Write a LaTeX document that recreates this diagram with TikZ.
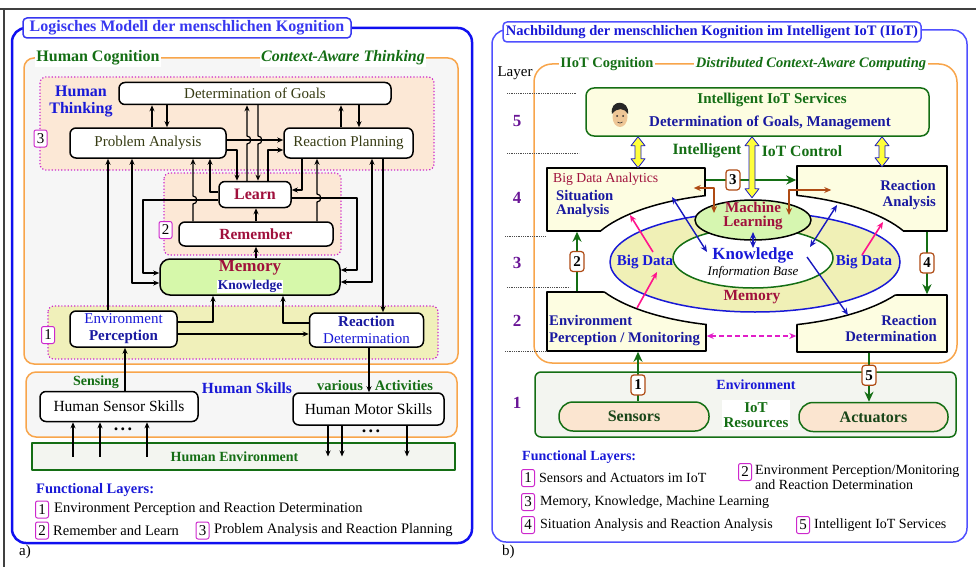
\documentclass[tikz,border=0pt]{standalone}
\usepackage{fontspec}
\setmainfont{Liberation Serif}
\usepackage{xcolor}
\usepackage{tikz}
\usetikzlibrary{arrows.meta,calc,shapes.geometric}
\definecolor{frameblue}{RGB}{16,16,240}
\definecolor{rightblue}{RGB}{80,80,255}
\definecolor{titleblue}{RGB}{55,55,240}
\definecolor{darkblue}{RGB}{25,25,160}
\definecolor{brightblue}{RGB}{25,25,215}
\definecolor{cogorange}{RGB}{248,165,75}
\definecolor{lightgray}{RGB}{246,246,246}
\definecolor{peach}{RGB}{252,232,214}
\definecolor{layermagenta}{RGB}{205,40,205}
\definecolor{paleyellow}{RGB}{240,240,186}
\definecolor{memgreen}{RGB}{214,248,170}
\definecolor{darkgreen}{RGB}{20,110,20}
\definecolor{deepgreen}{RGB}{25,70,25}
\definecolor{darkred}{RGB}{160,16,60}
\definecolor{textolive}{RGB}{55,60,20}
\definecolor{cream}{RGB}{253,253,225}
\definecolor{rustbrown}{RGB}{175,75,20}
\definecolor{hotpink}{RGB}{255,20,140}
\definecolor{dashmagenta}{RGB}{225,30,200}
\definecolor{layerpurple}{RGB}{105,20,150}
\definecolor{arrowblue}{RGB}{25,25,190}
\definecolor{sensorfill}{RGB}{251,229,208}
\definecolor{envfill}{RGB}{243,245,240}
\definecolor{memyellow}{RGB}{240,240,182}
\definecolor{mlgreen}{RGB}{214,246,176}
\definecolor{skin}{RGB}{238,198,150}
\definecolor{fatyellow}{RGB}{255,255,60}
\newcommand{\fsz}[2]{\fontsize{#1}{#2}\selectfont}
\newcommand{\fatarrow}[2]{\draw[fatarr] #1 -- ++(7,9) -- ++(-4,0) -- ++(0,#2-18) -- ++(4,0) -- ++(-7,9) -- ++(-7,-9) -- ++(4,0) -- ++(0,18-#2) -- ++(-4,0) -- cycle;}
\tikzset{
  txt/.style={inner sep=1},
  box/.style={draw, line width=1.5, rounded corners=6, fill=white, align=center, inner sep=0},
  cutbox/.style={draw, line width=1.5, fill=cream, inner sep=0},
  layerbox/.style={draw=layermagenta, dotted, line width=1.2, rounded corners=6, fill=peach},
  cogbox/.style={draw=cogorange, line width=1.5, rounded corners=10, fill=lightgray},
  titlebox/.style={line width=1.5, rounded corners=4, fill=white, inner sep=0},
  captext/.style={fill=white, inner sep=1.5, text=darkgreen, font=\fsz{16}{18}\bfseries},
  numbox/.style={draw=layermagenta, line width=1, rounded corners=2, fill=white, minimum width=13, minimum height=17, inner sep=0},
  iotnum/.style={draw=rustbrown, line width=1.2, rounded corners=3, fill=white, minimum width=14, minimum height=20, inner sep=0, font=\fsz{15}{16}\bfseries, text=black},
  layernum/.style={inner sep=1, text=layerpurple, font=\fsz{17}{18}\bfseries},
  sensbox/.style={draw=darkgreen, line width=1.5, rounded corners=14, fill=sensorfill, minimum width=150, minimum height=29, inner sep=0, text=deepgreen, font=\fsz{16}{18}\bfseries},
  sepline/.style={densely dotted, line width=0.8, black!70},
  dots/.style={inner sep=0.5, font=\fsz{18}{18}\bfseries},
  arr/.style={-{Stealth[length=6pt,width=5pt]}, line width=1.2},
  biarr/.style={{Stealth[length=6pt,width=5pt]}-{Stealth[length=6pt,width=5pt]}, line width=1.2},
  garr/.style={-{Stealth[length=10pt,width=9pt]}, line width=2.2, draw=darkgreen},
  bluearr/.style={{Stealth[length=7pt,width=6pt]}-{Stealth[length=7pt,width=6pt]}, line width=1.4, draw=arrowblue},
  pinkarr/.style={-{Stealth[length=7pt,width=6pt]}, line width=1.6, draw=hotpink},
  brownarr/.style={{Stealth[length=7pt,width=6pt]}-{Stealth[length=7pt,width=6pt]}, line width=1.5, draw=rustbrown},
  dasharr/.style={{Stealth[length=7pt,width=6pt]}-{Stealth[length=7pt,width=6pt]}, line width=1.3, draw=dashmagenta, dash pattern=on 5pt off 3pt},
  fatarr/.style={draw=arrowblue, line width=0.8, fill=fatyellow}
}

\begin{document}
\begin{tikzpicture}[x=1pt, y=-1pt, font=\fsz{15}{17}, line join=round]
\useasboundingbox (0,0) rectangle (976,567);
\draw[line width=1.5, black!75] (0,9) -- (976,9);
\draw[line width=1.2, black!75] (4,9) -- (4,567);

% ===== a) human cognition
\draw[draw=frameblue, line width=2.5, rounded corners=14] (12,28) rectangle (472,543);
\node[titlebox, draw=titleblue, text=titleblue, minimum width=328, minimum height=20, font=\fsz{16}{18}\bfseries] (titleA) at (187,28) {Logisches Modell der menschlichen Kognition};
\draw[cogbox] (24,58) rectangle (458,364);
\node[captext] (hcog) at (98,58) {Human Cognition};
\node[captext, font=\fsz{16}{18}\bfseries\itshape] (cat) at (343,58) {Context-Aware Thinking};
\draw[layerbox] (40,77) rectangle (434,170);
\draw[layerbox] (164,173) rectangle (341,255);
\draw[layerbox, fill=paleyellow] (48,306) rectangle (438,359);
\node[numbox] (nA3) at (40.5,138.5) {3};
\node[numbox] (nA2) at (165.5,230) {2};
\node[numbox] (nA1) at (48,335) {1};
\node[txt, align=center, text=brightblue, font=\fsz{16}{17}\bfseries] (think) at (81,101.5) {Human\\Thinking};

\node[box, minimum width=272, minimum height=22, text=textolive] (dog) at (255,93.5) {Determination of Goals};
\node[box, minimum width=156, minimum height=30, text=textolive] (pa) at (148,143) {Problem Analysis};
\node[box, minimum width=129, minimum height=30, text=textolive] (rp) at (348.5,143) {Reaction Planning};
\node[box, minimum width=72, minimum height=26, text=darkred, font=\fsz{16}{18}\bfseries] (learn) at (255,194.5) {Learn};
\node[box, minimum width=154, minimum height=24, text=darkred, font=\fsz{15.5}{18}\bfseries] (rem) at (256,234) {Remember};
\node[box, minimum width=180, minimum height=36, fill=memgreen, rounded corners=10, font=\fsz{15}{18}] (mem) at (250,277) {{\fsz{17}{17}\bfseries\color{darkred}Memory}\\{\fsz{13.5}{14}\bfseries\setlength{\fboxsep}{0.5pt}\colorbox{white}{\color{darkblue}Knowledge}}};
\node[box, minimum width=107, minimum height=36] (ep) at (123.5,329) {{\color{brightblue}Environment}\\{\bfseries\color{darkblue}Perception}};
\node[box, minimum width=114, minimum height=34] (rd) at (366.5,330) {{\bfseries\color{darkblue}Reaction}\\{\color{brightblue}Determination}};

% thinking layer
\draw[arr] (pa.north -| 152,0) -- (dog.south -| 152,0);
\draw[arr] (dog.south -| 167,0) -- (pa.north -| 167,0);
\draw[arr] (rp.north -| 341,0) -- (dog.south -| 341,0);
\draw[arr] (dog.south -| 359,0) -- (rp.north -| 359,0);
\draw[arr] (learn.north -| 247,0) -- (247,144) .. controls (252,144) and (252,136) .. (247,136) -- (dog.south -| 247,0);
\draw[arr] (dog.south -| 258,0) -- (258,136) .. controls (263,136) and (263,144) .. (258,144) -- (learn.north -| 258,0);
\draw[arr] (pa.east |- 0,140) -- (rp.west |- 0,140);
\draw[arr] (pa.east |- 0,150) -| (learn.north -| 237,0);
\draw[arr] (learn.north -| 268,0) |- (rp.west |- 0,150);
\draw[arr] (rp.south -| 302,0) |- (learn.east |- 0,190);
\draw[arr] (learn.west |- 0,192) -| (pa.south -| 210,0);
% learn, remember, memory
\draw[arr] (learn.west |- 0,200) -| (143,273) -- (mem.west |- 0,273);
\draw[biarr] (pa.south -| 132,0) |- (mem.west |- 0,283);
\draw[arr] (ep.north -| 108,0) -- (pa.south -| 108,0);
\draw[arr] (rem.north -| 193,0) -- (193,204) .. controls (198,204) and (198,196) .. (193,196) -- (pa.south -| 193,0);
\draw[arr] (rem.north -| 256,0) -- (learn.south -| 256,0);
\draw[arr] (mem.north -| 256,0) -- (rem.south -| 256,0);
\draw[arr] (learn.east |- 0,198) -| (357,270) -- (mem.east |- 0,270);
\draw[arr] (rem.north -| 317,0) -- (317,202) .. controls (322,202) and (322,194) .. (317,194) -- (rp.south -| 317,0);
\draw[biarr] (rp.south -| 372,0) |- (mem.east |- 0,282);
\draw[arr] (rp.south -| 383,0) -- (rd.north -| 383,0);
\draw[arr] (ep.east |- 0,322) -| (mem.south -| 213,0);
\draw[arr] (ep.east |- 0,334) -- (rd.west |- 0,334);
\draw[arr] (rd.west |- 0,323) -| (mem.south -| 283,0);

% skills and environment
\draw[cogbox] (26,372) rectangle (457,437);
\node[box, minimum width=158, minimum height=30, font=\fsz{15.5}{17}] (hss) at (119,406.5) {Human Sensor Skills};
\node[box, minimum width=151, minimum height=32, font=\fsz{15.5}{17}] (hms) at (368.5,409) {Human Motor Skills};
\node[txt, text=darkgreen, font=\fsz{14}{16}\bfseries] (sensing) at (96,382) {Sensing};
\node[txt, text=brightblue, font=\fsz{15.5}{17}\bfseries] (skills) at (247,388) {Human Skills};
\node[txt, text=darkgreen, font=\fsz{14.5}{16}\bfseries] (acts) at (375,386) {various\hspace{12pt}Activities};
\node[draw=darkgreen, line width=1.5, fill=envfill, minimum width=423, minimum height=27, inner sep=0] (henv) at (243.5,456.5) {};
\node[txt, text=darkgreen, font=\fsz{14}{16}\bfseries] (henvtxt) at (234.5,457) {Human Environment};
\node[dots] (dotsA) at (123,429) {.\hspace{2.5pt}.\hspace{2.5pt}.};
\node[dots] (dotsB) at (371,431) {.\hspace{2.5pt}.\hspace{2.5pt}.};
\draw[arr] (hss.north -| 125,0) -- (ep.south -| 125,0);
\draw[arr] (rd.south -| 369,0) -- (hms.north -| 369,0);
\foreach \xx in {73,100,147} \draw[arr] (henv.center -| \xx,0) -- (hss.south -| \xx,0);
\foreach \xx in {328,342,407} \draw[arr] (hms.south -| \xx,0) -- (henv.center -| \xx,0);

% legend a
\node[txt, anchor=west, text=brightblue, font=\fsz{14.5}{16}\bfseries] (flA) at (35,490) {Functional Layers:};
\node[numbox] (lA1) at (42,509.5) {1};
\node[txt, anchor=west, font=\fsz{14.5}{16}] (lA1t) at (53,509.5) {Environment Perception and Reaction Determination};
\node[numbox] (lA2) at (42,530.5) {2};
\node[txt, anchor=west, font=\fsz{14.5}{16}] (lA2t) at (52,530.5) {Remember and Learn};
\node[numbox] (lA3) at (202.5,530.5) {3};
\node[txt, anchor=west, font=\fsz{14.5}{16}] (lA3t) at (213,530.5) {Problem Analysis and Reaction Planning};
\node[txt, anchor=west] (capA) at (18,552) {a)};

% ===== b) IIoT
\draw[draw=rightblue, line width=1.5, rounded corners=14] (492,30) rectangle (967,542);
\node[titlebox, draw=rightblue, text=brightblue, minimum width=418, minimum height=20, font=\fsz{14.5}{16}\bfseries] (titleB) at (712,32) {Nachbildung der menschlichen Kognition im Intelligent IoT (IIoT)};
\node[txt] (layer) at (515,73) {Layer};
\draw[cogbox, fill=white, rounded corners=18] (534,64) rectangle (957,363);
\node[captext, font=\fsz{14.5}{16}\bfseries] (iiotc) at (607,64) {IIoT Cognition};
\node[captext, font=\fsz{14.5}{16}\bfseries\itshape] (dcac) at (811,64) {Distributed Context-Aware Computing};
\foreach \yy/\xa/\xb in {93/507/577,153/507/579,236/505/545,287/507/570,351/505/545}
  \draw[sepline] (\xa,\yy) -- (\xb,\yy);
\foreach \yy/\nn in {121/5,198/4,263/3,321/2,403/1}
  \node[layernum] (ln\nn) at (517,\yy) {\nn};

\node[draw=darkgreen, line width=1.5, rounded corners=8, fill=cream, minimum width=343, minimum height=48, inner sep=0] (svc) at (757.5,112) {};
\node[txt, text=darkgreen, font=\fsz{15}{17}\bfseries] (svct1) at (772,100) {Intelligent IoT Services};
\node[txt, text=darkblue, font=\fsz{15}{17}\bfseries] (svct2) at (770,123) {Determination of Goals, Management};
\begin{scope}[shift={(620,115)}]
  \fill[skin] (0,2) ellipse [x radius=7.5, y radius=10];
  \fill[black!85] (-8,-1) .. controls (-11,-16) and (10,-16) .. (8,-1) .. controls (5,-7) and (-3,-8) .. (-8,-1) -- cycle;
  \fill[black!85] (-3,1) circle (1) (3,1) circle (1);
  \draw[black!80, line width=0.6] (-2.5,7) .. controls (-1,8.5) and (1,8.5) .. (2.5,7);
\end{scope}

\node[cutbox, minimum width=158, minimum height=63] (sa) at (626,199.5) {};
\node[cutbox, minimum width=150, minimum height=65] (ra) at (872,198.5) {};
\node[cutbox, minimum width=159, minimum height=59] (epm) at (626.5,321.5) {};
\node[cutbox, minimum width=150, minimum height=57] (rdm) at (872,323.5) {};
\fill[white] (752,260) ellipse [x radius=168, y radius=67];
\begin{scope}
  \clip (sa.south west) rectangle (sa.north east) (ra.south west) rectangle (ra.north east)
        (epm.south west) rectangle (epm.north east) (rdm.south west) rectangle (rdm.north east);
  \draw[line width=1.5] (752,260) ellipse [x radius=168, y radius=67];
\end{scope}
\node[ellipse, draw=brightblue, line width=1.5, fill=memyellow, minimum width=290, minimum height=100, inner sep=0] (memo) at (755,262) {};
\node[ellipse, draw=darkgreen, line width=1.5, fill=white, minimum width=160, minimum height=60, inner sep=0] (know) at (753,258) {};
\node[ellipse, draw, line width=1.5, fill=mlgreen, minimum width=116, minimum height=40, inner sep=0] (ml) at (753,220) {};

\node[txt, anchor=west, text=darkred, font=\fsz{13.7}{16}] (bda) at (552,179) {Big Data Analytics};
\node[txt, anchor=west, align=left, text=darkblue, font=\fsz{14.7}{14.5}\bfseries] (satxt) at (555,204) {Situation\\Analysis};
\node[txt, anchor=east, align=right, text=darkblue, font=\fsz{14.7}{16}\bfseries] (ratxt) at (937,195) {Reaction\\Analysis};
\node[txt, anchor=west, align=left, text=darkblue, font=\fsz{14.7}{17}\bfseries] (eptxt) at (548,330.5) {Environment\\Perception / Monitoring};
\node[txt, anchor=east, align=right, text=darkblue, font=\fsz{14.7}{15.5}\bfseries] (rdtxt) at (938,328.5) {Reaction\\Determination};
\node[txt, align=center, text=darkred, font=\fsz{15}{14.5}\bfseries] (mltxt) at (753,216) {Machine\\Learning};
\node[txt, text=brightblue, font=\fsz{17}{18}\bfseries] (knowtxt) at (753,255) {Knowledge};
\node[txt, font=\fsz{13}{14}\itshape] (ibase) at (753,272) {Information Base};
\node[txt, text=darkred, font=\fsz{15.5}{17}\bfseries] (memtxt) at (752,297) {Memory};
\node[txt, text=brightblue, font=\fsz{15}{17}\bfseries] (bdl) at (645,262) {Big Data};
\node[txt, text=brightblue, font=\fsz{15}{17}\bfseries] (bdr) at (864,262) {Big Data};
\node[txt, text=darkgreen, font=\fsz{15.7}{17}\bfseries] (intel) at (707,151) {Intelligent};
\node[txt, text=darkgreen, font=\fsz{15.7}{17}\bfseries] (ctrl) at (802,151) {IoT Control};

% environment
\node[draw=darkgreen, line width=1.5, rounded corners=6, fill=envfill, minimum width=421, minimum height=65, inner sep=0] (env) at (745.5,404.5) {};
\node[txt, text=brightblue, font=\fsz{14}{16}\bfseries] (envtxt) at (756,385) {Environment};
\node[sensbox] (sens) at (634,416.5) {Sensors};
\node[sensbox, minimum width=149] (act) at (873.5,417) {Actuators};
\node[fill=white, inner sep=2, align=center, text=darkgreen, font=\fsz{15}{15.5}\bfseries] (iotres) at (756,415) {IoT\\Resources};

% arrows
\draw[pinkarr] ($(epm.center)+(10.5,-13.5)$) -- ($(bdl.center)+(12,10)$);
\draw[pinkarr] ($(bdl.center)+(8,-10)$) -- ($(sa.center)+(4,15.5)$);
\draw[pinkarr] ($(bdr.center)+(-2,-7)$) -- ($(ra.center)+(11,23.5)$);
\draw[bluearr] ($(sa.center)+(46,-2.5)$) -- ($(know.center)+(-46,-6)$);
\draw[bluearr] ($(ml.center)+(0,12)$) -- ($(know.center)+(0,-10)$);
\draw[bluearr] ($(ra.center)+(-35,6.5)$) -- ($(know.center)+(57,-11)$);
\draw[-{Stealth[length=7pt,width=6pt]}, line width=1.4, draw=arrowblue] ($(know.center)+(54,-1)$) -- ($(rdm.center)+(-24,-8.5)$);
\draw[brownarr] ($(sa.east |- 0,188)+(-12,0)$) -| ($(ml.center)+(-39,-7)$);
\draw[brownarr] ($(ra.west |- 0,190)+(35,0)$) -| ($(ml.center)+(36,-5)$);
\draw[dasharr] (epm.east |- 0,336) -- (rdm.west |- 0,336);
\draw[garr] (sa.east |- 0,180) -- node[iotnum, pos=0.3] (lb3) {3} (ra.west |- 0,180);
\draw[garr] (epm.north -| 577,0) -- node[iotnum] (lb2) {2} (sa.south -| 577,0);
\draw[garr] (ra.south -| 927,0) -- node[iotnum] (lb4) {4} (rdm.north -| 927,0);
\draw[garr] (sens.north -| 638,0) -- node[iotnum, pos=0.33] (lb1) {1} (epm.south -| 638,0);
\draw[garr] (rdm.south -| 869,0) -- node[iotnum, pos=0.46] (lb5) {5} (act.north -| 869,0);
\fatarrow{(svc.south -| 638,0)}{31}
\fatarrow{(svc.south -| 882,0)}{30}
\fatarrow{(svc.south -| 752,0)}{61}

% legend b
\node[txt, anchor=west, text=brightblue, font=\fsz{14}{16}\bfseries] (flB) at (521,457) {Functional Layers:};
\node[numbox] (lB1) at (528,478) {1};
\node[txt, anchor=west, font=\fsz{14}{16}] (lB1t) at (538,478) {Sensors and Actuators im IoT};
\node[numbox] (lB2) at (745,472) {2};
\node[txt, anchor=west, align=left, font=\fsz{14}{15}] (lB2t) at (754,477.5) {Environment Perception/Monitoring\\and Reaction Determination};
\node[numbox] (lB3) at (528,502) {3};
\node[txt, anchor=west, font=\fsz{14}{16}] (lB3t) at (539,502) {Memory, Knowledge, Machine Learning};
\node[numbox] (lB4) at (528,525) {4};
\node[txt, anchor=west, font=\fsz{14}{16}] (lB4t) at (539,525) {Situation Analysis and Reaction Analysis};
\node[numbox] (lB5) at (803,525) {5};
\node[txt, anchor=west, font=\fsz{14}{16}] (lB5t) at (813,525) {Intelligent IoT Services};
\node[txt, anchor=west] (capB) at (501,552) {b)};
\end{tikzpicture}
\end{document}
